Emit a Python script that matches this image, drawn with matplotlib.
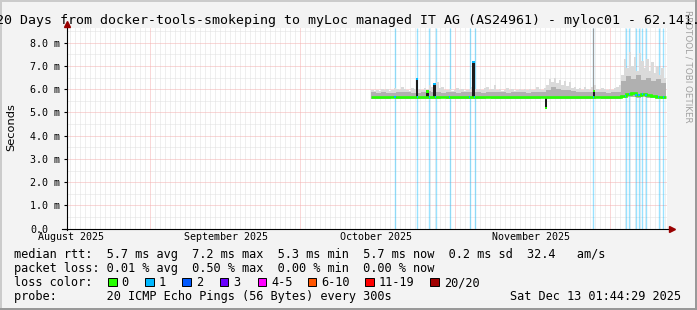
import matplotlib
matplotlib.use('Agg')
import matplotlib.pyplot as plt
import numpy as np
from matplotlib.patches import Rectangle

plt.rcParams['font.family'] = ['DejaVu Sans Mono']

W, H = 697, 310

# x axis: days counted from 1 Aug 2025, graph spans 120 days
x_start, x_end = -0.8, 119.2
month_days = [0, 31, 61, 92]
month_labels = ['August 2025', 'September 2025', 'October 2025', 'November 2025']
y_max = 8.63
y_ticks = [0, 1, 2, 3, 4, 5, 6, 7, 8]
y_labels = ['0.0', '1.0 m', '2.0 m', '3.0 m', '4.0 m', '5.0 m', '6.0 m', '7.0 m', '8.0 m']

# measured data starts 30 Sep, smoke tops in half-day bins, rest daily (ms)
data_start = 60.0
smoke_hi = [5.95, 5.9, 5.98, 5.92, 6.0, 5.95, 6.02, 5.9, 5.97, 6.05,
            6.0, 5.95, 6.1, 6.0, 5.98, 5.92, 6.05, 6.0, 5.95, 6.02,
            5.98, 6.05, 5.95, 6.2, 6.1, 6.0, 6.3, 6.05, 6.1, 5.98,
            5.95, 6.0, 5.92, 5.98, 6.05, 5.95, 6.0, 5.9, 5.97, 6.0,
            6.1, 6.0, 5.95, 6.02, 5.98, 6.05, 6.1, 5.95, 6.0, 6.2,
            5.98, 6.0, 5.92, 5.95, 6.05, 5.98, 6.0, 5.9, 5.95, 6.0,
            5.97, 6.0, 5.95, 6.02, 5.98, 5.95, 6.1, 6.0, 5.95, 6.05,
            6.2, 6.45, 6.3, 6.5, 6.25, 6.4, 6.2, 6.35, 6.15, 6.3,
            6.05, 6.1, 6.0, 6.05, 5.98, 6.1, 6.0, 5.95, 6.1, 6.2,
            6.0, 5.98, 6.05, 6.0, 5.95, 6.02, 5.98, 6.05, 6.1, 6.2,
            6.6, 7.3, 6.9, 7.6, 7.0, 7.4, 6.8, 7.55, 7.2, 6.9,
            7.3, 6.8, 7.15, 6.7, 7.0, 6.6, 6.9, 6.5]
smoke_mid = [5.86, 5.84, 5.88, 5.85, 5.84, 5.87, 5.86, 5.89, 5.85, 5.84,
             5.86, 5.9, 5.88, 5.86, 5.84, 5.86, 5.87, 5.84, 5.86, 5.88,
             5.88, 5.86, 5.84, 5.86, 5.87, 5.86, 5.88, 5.84, 5.86, 5.86,
             5.86, 5.84, 5.87, 5.86, 5.88, 5.95, 6.1, 6.0, 5.98, 5.95,
             5.9, 5.88, 5.86, 5.87, 5.86, 5.88, 5.86, 5.84, 5.87, 5.88,
             6.35, 6.55, 6.45, 6.6, 6.4, 6.5, 6.35, 6.45, 6.25]
smoke_lo = [5.58, 5.59, 5.58, 5.58, 5.6, 5.58, 5.59, 5.58, 5.58, 5.59,
            5.58, 5.58, 5.59, 5.58, 5.6, 5.58, 5.58, 5.59, 5.58, 5.58,
            5.59, 5.58, 5.58, 5.6, 5.58, 5.58, 5.59, 5.58, 5.58, 5.58,
            5.58, 5.59, 5.58, 5.58, 5.6, 5.58, 5.59, 5.58, 5.58, 5.59,
            5.58, 5.58, 5.59, 5.58, 5.58, 5.6, 5.58, 5.58, 5.59, 5.58,
            5.62, 5.65, 5.66, 5.64, 5.66, 5.63, 5.62, 5.6, 5.59]
median = [5.67, 5.66, 5.67, 5.68, 5.67, 5.66, 5.67, 5.67, 5.68, 5.67,
          5.66, 5.67, 5.67, 5.66, 5.67, 5.68, 5.67, 5.66, 5.67, 5.67,
          5.67, 5.66, 5.67, 5.67, 5.68, 5.67, 5.66, 5.67, 5.67, 5.66,
          5.67, 5.67, 5.66, 5.67, 5.68, 5.66, 5.67, 5.67, 5.66, 5.67,
          5.67, 5.66, 5.67, 5.67, 5.66, 5.68, 5.67, 5.66, 5.67, 5.67,
          5.72, 5.78, 5.82, 5.76, 5.8, 5.75, 5.7, 5.66, 5.65]

# short rtt excursions
spike_days = [69.15, 71.3, 72.7, 80.5, 95.0, 104.6]
spike_low = [5.66, 5.62, 5.66, 5.66, 5.18, 5.66]
spike_high = [6.45, 5.93, 6.25, 7.22, 5.66, 5.95]
spike_median = [6.42, 5.9, 6.22, 7.18, 5.2, 5.93]
spike_loss = [1, 0, 1, 1, 0, 0]

# samples with 1/20 packets lost
loss_days = [64.8, 69.26, 71.66, 72.9, 75.7, 79.7, 80.7, 104.46, 110.9, 111.66,
             113.0, 113.6, 114.26, 115.0, 117.54, 118.46]

loss_names = ['0', '1', '2', '3', '4-5', '6-10', '11-19', '20/20']
loss_colors = ['#26ff00', '#00b8ff', '#0059ff', '#6a00ff', '#ff00ff', '#ff5500', '#ff0000', '#a00000']
loss_box_x = [108, 145.3, 182, 219.6, 257.8, 307.6, 365.3, 430.2]

legend_rtt = 'median rtt:  5.7 ms avg  7.2 ms max  5.3 ms min  5.7 ms now  0.2 ms sd  32.4   am/s'
legend_loss = 'packet loss: 0.01 % avg  0.50 % max  0.00 % min  0.00 % now'
legend_probe = 'probe:       20 ICMP Echo Pings (56 Bytes) every 300s'
stamp = 'Sat Dec 13 01:44:29 2025'
title = '120 Days from docker-tools-smokeping to myLoc managed IT AG (AS24961) - myloc01 - 62.141.'

fig = plt.figure(figsize=(W / 100, H / 100), dpi=100, facecolor='#f3f3f3')
ax = fig.add_axes([67 / W, (H - 228.7) / H, 600 / W, 200.7 / H])
ax.set_facecolor('white')
ax.set_xlim(x_start, x_end)
ax.set_ylim(0, y_max)
for s in ax.spines.values():
    s.set_visible(False)

# grid, dotted
grid_minor = '#e0e0e0'
grid_major = '#f5b0b0'
dots = (0, (1, 1))
vmaj = [15.8, 45.8, 76.8, 107.8]
vmin = [k - 0.2 for k in range(120) if k - 0.2 not in vmaj]
hmin = [0.5, 1.5, 2.5, 3.5, 4.5, 5.5, 6.5, 7.5, 8.5]
g = dict(linestyles=dots, lw=0.72)
ax.vlines(vmin, 0, y_max, colors=grid_minor, zorder=0.5, **g)
ax.hlines(hmin, x_start, x_end, colors=grid_minor, zorder=0.5, **g)
ax.vlines(vmaj, 0, y_max, colors=grid_major, zorder=0.6, **g)
ax.hlines(y_ticks[1:], x_start, x_end, colors=grid_major, zorder=0.6, **g)

# loss background
ax.vlines(loss_days, 0, y_max, colors='#00b8ff', alpha=0.4, lw=1.0, zorder=1)

# smoke
edges_half = data_start + 0.5 * np.arange(len(smoke_hi) + 1)
edges_day = data_start + np.arange(len(median) + 1)
ax.stairs(smoke_hi, edges_half, baseline=np.repeat(smoke_lo, 2), fill=True, color='#dadada', zorder=2)
ax.stairs(smoke_mid, edges_day, baseline=smoke_lo, fill=True, color='#b0b0b0', zorder=2.1)
ax.vlines([104.45], 5.9, y_max, colors='#9a9a9a', lw=0.8, zorder=2.2)

# spikes
sl = np.array(spike_low)
sh = np.array(spike_high)
ax.bar(spike_days, sh - sl, bottom=sl, width=0.45, color='#1c1c1c', zorder=3)

# median line, coloured by loss
ax.stairs(median, edges_day, baseline=None, color='#26ff00', lw=1.9, zorder=4)
tip_col = [loss_colors[n] for n in spike_loss]
ax.bar(spike_days, 0.09, bottom=np.array(spike_median) - 0.045, width=0.45, color=tip_col, zorder=4.5)
ld = [d for d in loss_days if d >= data_start]
lm = [median[int(d - data_start)] for d in ld]
ax.bar(ld, 0.09, bottom=np.array(lm) - 0.045, width=0.3, color='#00b8ff', zorder=4.6)

# axes with arrows
ax.plot([-0.0083, 1.0083], [0, 0], transform=ax.transAxes, color='black', lw=0.8, clip_on=False, zorder=5)
ax.plot([0, 0], [-0.008, 1.02], transform=ax.transAxes, color='black', lw=0.8, clip_on=False, zorder=5)
ax.plot([1.0083], [0], transform=ax.transAxes, marker='>', ms=4, color='#990000', clip_on=False, zorder=6)
ax.plot([0], [1.022], transform=ax.transAxes, marker='^', ms=4, color='#990000', clip_on=False, zorder=6)

ax.set_yticks(y_ticks)
ax.set_yticklabels(y_labels, fontsize=7.2, ha='left')
ax.tick_params(axis='y', length=2.2, width=0.8, pad=24.4, direction='out')
ax.set_xticks(month_days)
ax.set_xticklabels(month_labels, fontsize=7.2)
ax.tick_params(axis='x', length=0, pad=2.2)

# title and texts
fig.text(-11.8 / W, 1 - 24 / H, title, fontsize=9.5, ha='left', va='baseline')
fig.text(11 / W, 1 - 127 / H, 'Seconds', family='DejaVu Sans', fontsize=8.2, rotation=90,
         ha='center', va='center')
fig.text(688 / W, 1 - 66 / H, 'RRDTOOL / TOBI OETIKER', family='DejaVu Sans', fontsize=6.3,
         rotation=270, ha='center', va='center', color='#a0a0a0')

lf = 8.56
lx = 13.9 / W
fig.text(lx, 1 - 258 / H, legend_rtt, fontsize=lf, va='baseline')
fig.text(lx, 1 - 272 / H, legend_loss, fontsize=lf, va='baseline')
fig.text(lx, 1 - 286 / H, 'loss color:', fontsize=lf, va='baseline')
for name, col, bx in zip(loss_names, loss_colors, loss_box_x):
    fig.add_artist(Rectangle((bx / W, 1 - 286 / H), 8.5 / W, 8.5 / H, transform=fig.transFigure,
                             facecolor=col, edgecolor='black', lw=0.7))
    fig.text((bx + 13.7) / W, 1 - 286 / H, name, fontsize=lf, va='baseline')
fig.text(lx, 1 - 300 / H, legend_probe, fontsize=lf, va='baseline')
fig.text(681 / W, 1 - 300 / H, stamp, fontsize=lf, va='baseline', ha='right')

# 3d frame
fig.add_artist(Rectangle((0, 0), 2 / W, 1, transform=fig.transFigure, color='#cbcbcb', lw=0))
fig.add_artist(Rectangle((0, 1 - 2 / H), 1, 2 / H, transform=fig.transFigure, color='#cbcbcb', lw=0))
fig.add_artist(Rectangle((0, 0), 1, 2 / H, transform=fig.transFigure, color='#999999', lw=0))
fig.add_artist(Rectangle((1 - 2 / W, 0), 2 / W, 1, transform=fig.transFigure, color='#999999', lw=0))

fig.savefig('out.png', dpi=100, facecolor=fig.get_facecolor())
